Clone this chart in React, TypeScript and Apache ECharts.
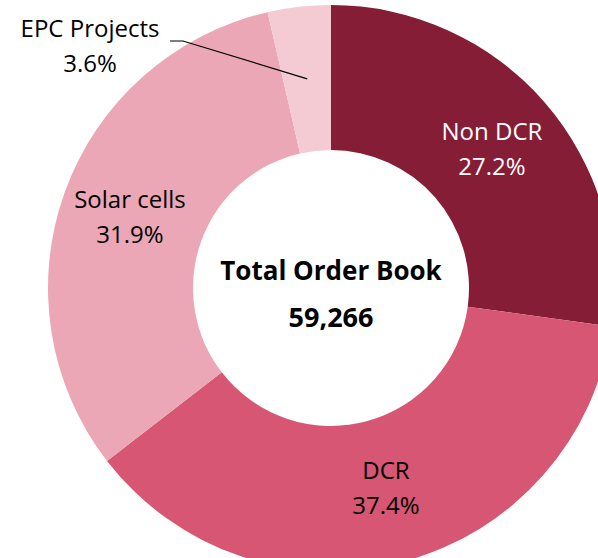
import React, { useEffect, useRef } from "react";
import * as echarts from "echarts";

const categories = ["Non DCR", "DCR", "Solar cells", "EPC Projects"];
const shares = [27.2, 37.4, 31.9, 3.6];
const colors = ["#861D36", "#D75673", "#EBA7B5", "#F4CAD3"];
const labelColors = ["#FFFFFF", "#000000", "#000000", "#000000"];
const centerTitle = "Total Order Book";
const centerValue = "59,266";

const CX = 331;
const CY = 288;
const R_IN = 138;
const R_OUT = 283;
const FONT = "'Open Sans', Lato, sans-serif";

export default function App() {
  const ref = useRef<HTMLDivElement>(null);
  useEffect(() => {
    if (!ref.current) return;
    const chart = echarts.init(ref.current, undefined, { renderer: "svg" });
    const total = shares.reduce((a, b) => a + b, 0);
    const midAngle = (i: number) => {
      let before = 0;
      for (let k = 0; k < i; k++) before += shares[k];
      return ((before + shares[i] / 2) / total) * Math.PI * 2;
    };
    const epcIdx = 3;
    const epcLabelX = 90;
    const epcLabelY = 45;
    const rm = (R_IN + R_OUT) / 2;
    const a = midAngle(epcIdx);
    const inner = [CX + rm * Math.sin(a), CY - rm * Math.cos(a)];

    chart.setOption({
      animation: false,
      backgroundColor: "#FFFFFF",
      series: [
        {
          type: "pie",
          center: [CX, CY],
          radius: [R_IN, R_OUT],
          startAngle: 90,
          clockwise: true,
          avoidLabelOverlap: false,
          silent: true,
          itemStyle: { borderWidth: 0 },
          label: {
            show: true,
            position: "inside",
            formatter: "{b}\n{c}%",
            fontFamily: FONT,
            fontSize: 24,
            lineHeight: 35,
            align: "center",
          },
          labelLine: { show: false },
          labelLayout: (p: any) => {
            if (p.dataIndex === epcIdx) {
              return {
                x: epcLabelX,
                y: epcLabelY,
                align: "center",
                verticalAlign: "middle",
              };
            }
            if (p.dataIndex === 1) {
              return { dy: -7 };
            }
            return {};
          },
          data: categories.map((name, i) => ({
            name,
            value: shares[i],
            itemStyle: { color: colors[i] },
            label:
              i === epcIdx
                ? { position: "outside", color: labelColors[i], align: "center" }
                : { color: labelColors[i] },
            labelLine: { show: false },
          })),
        },
      ],
      graphic: [
        {
          type: "polyline",
          silent: true,
          z: 100,
          shape: {
            points: [
              [epcLabelX + 80, epcLabelY - 4],
              [epcLabelX + 93, epcLabelY - 4],
              inner,
            ],
          },
          style: { stroke: "#000000", lineWidth: 1.2, fill: null },
        },
        {
          type: "text",
          z: 100,
          x: CX,
          y: 270,
          style: {
            text: centerTitle,
            fontFamily: FONT,
            fontWeight: "bold",
            fontSize: 26,
            fill: "#000000",
            align: "center",
            verticalAlign: "middle",
          },
        },
        {
          type: "text",
          z: 100,
          x: CX,
          y: 316,
          style: {
            text: centerValue,
            fontFamily: FONT,
            fontWeight: "bold",
            fontSize: 27,
            fill: "#000000",
            align: "center",
            verticalAlign: "middle",
          },
        },
      ],
    });
    return () => chart.dispose();
  }, []);
  return (
    <div
      ref={ref}
      style={{ position: "fixed", left: 0, top: 0, width: 598, height: 558 }}
    />
  );
}
